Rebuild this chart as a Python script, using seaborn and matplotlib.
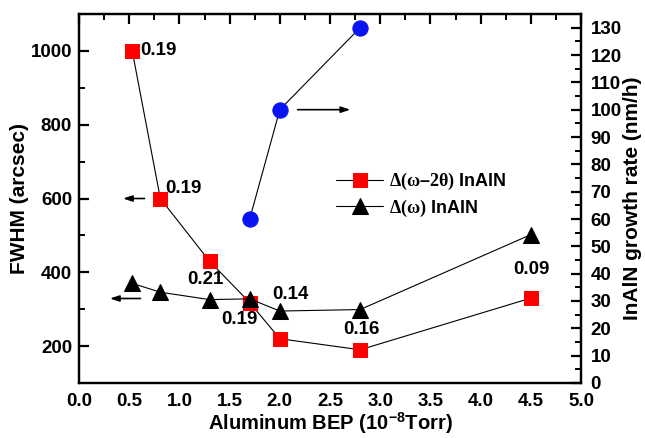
import matplotlib
matplotlib.use("Agg")
import matplotlib.pyplot as plt
import seaborn as sns
import pandas as pd

sns.set_theme(style="white")
plt.rcParams['font.family'] = ['Liberation Sans', 'DejaVu Sans']
plt.rcParams['font.weight'] = 'bold'
plt.rcParams['text.color'] = 'black'
plt.rcParams['axes.labelcolor'] = 'black'
plt.rcParams['xtick.color'] = 'black'
plt.rcParams['ytick.color'] = 'black'
plt.rcParams['mathtext.fontset'] = 'custom'
plt.rcParams['mathtext.rm'] = 'Liberation Serif'
plt.rcParams['mathtext.it'] = 'Liberation Serif:italic'
plt.rcParams['mathtext.bf'] = 'Liberation Sans:bold'

# Data
bep = [0.53, 0.81, 1.30, 1.70, 2.00, 2.80, 4.50]
fwhm_w2t = [1000, 600, 430, 318, 220, 190, 330]
fwhm_w = [370, 346, 326, 328, 295, 299, 502]
rate_bep = [1.70, 2.00, 2.80]
rate = [60, 100, 130]
ratio_labels = ["0.19", "0.19", "0.21", "0.19", "0.14", "0.16", "0.09"]
label_pos = [(0.61, 1000), (0.86, 627), (1.255, 380), (1.60, 272),
             (2.11, 341), (2.81, 245), (4.51, 407)]
label_ha = ["left", "left", "center", "center", "center", "center", "center"]

df1 = pd.DataFrame({"bep": bep, "w2t": fwhm_w2t, "w": fwhm_w})
df2 = pd.DataFrame({"bep": rate_bep, "rate": rate})

fig = plt.figure(figsize=(6.45, 4.38), dpi=100)
ax = fig.add_axes([0.1225, 0.1256, 0.7783, 0.8424])
ax2 = ax.twinx()

sns.lineplot(data=df1, x="bep", y="w2t", ax=ax, color="black", lw=0.8,
             marker="s", markersize=10, markerfacecolor="red",
             markeredgecolor="red", label=r"$\mathrm{\Delta(\omega}$–$\mathrm{2\theta)}$ InAlN")
sns.lineplot(data=df1, x="bep", y="w", ax=ax, color="black", lw=0.8,
             marker="^", markersize=12, markerfacecolor="black",
             markeredgecolor="black", label=r"$\mathrm{\Delta(\omega)}$ InAlN")
sns.lineplot(data=df2, x="bep", y="rate", ax=ax2, color="black", lw=0.8,
             marker="o", markersize=11, markerfacecolor="#0a14f0",
             markeredgecolor="#0a14f0", legend=False)

for txt, (x, y), ha in zip(ratio_labels, label_pos, label_ha):
    ax.text(x, y, txt, ha=ha, va="center", fontsize=13.5, fontweight="bold")

arrow = dict(arrowstyle="-|>,head_length=0.45,head_width=0.15", color="black", lw=1.2)
ax.annotate("", xy=(0.41, 600), xytext=(0.68, 600), arrowprops=arrow)
ax.annotate("", xy=(0.28, 329), xytext=(0.64, 329), arrowprops=arrow)
ax2.annotate("", xy=(2.73, 100), xytext=(2.15, 100), arrowprops=arrow)

ax.set_xlim(0, 5.0)
ax.set_ylim(100, 1100)
ax2.set_ylim(0, 135)
ax.set_xticks([i * 0.5 for i in range(11)])
ax.set_xticks([i * 0.25 for i in range(21)], minor=True)
ax.set_yticks([200, 400, 600, 800, 1000])
ax.set_yticks(list(range(100, 1101, 100)), minor=True)
ax2.set_yticks(list(range(0, 131, 10)))
ax2.set_yticks(list(range(0, 136, 5)), minor=True)

ax.set_xlabel(r"Aluminum BEP (10$^{\mathbf{-8}}$Torr)", fontsize=14.5, fontweight="bold", labelpad=1)
ax.set_ylabel("FWHM (arcsec)", fontsize=15, fontweight="bold", labelpad=1)
ax2.set_ylabel("InAlN growth rate (nm/h)", fontsize=15, fontweight="bold", labelpad=1)

for a in (ax, ax2):
    for s in a.spines.values():
        s.set_linewidth(1.6)
        s.set_color("black")
    a.tick_params(which="major", direction="in", length=7, width=1.6,
                  labelsize=13.5, colors="black")
    a.tick_params(which="minor", direction="in", length=4, width=1.4)
ax.tick_params(which="both", top=True, right=False)
ax.tick_params(axis="x", pad=7)
ax.tick_params(axis="y", pad=5)
ax2.tick_params(which="both", left=False, right=True)
ax2.tick_params(axis="y", pad=7)
for lab in ax.get_xticklabels() + ax.get_yticklabels() + ax2.get_yticklabels():
    lab.set_fontweight("bold")

leg = ax.legend(loc="center left", bbox_to_anchor=(0.48, 0.51), frameon=False,
                fontsize=13, handlelength=2.6, handletextpad=0.3, labelspacing=0.3)
for t in leg.get_texts():
    t.set_fontweight("bold")

fig.savefig("out.png", dpi=100)
